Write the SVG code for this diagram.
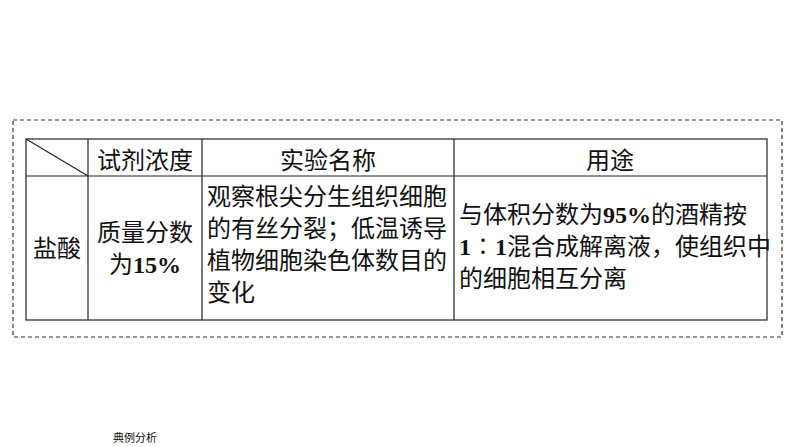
<svg xmlns="http://www.w3.org/2000/svg" width="794" height="447" viewBox="0 0 794 447">
<style>
text{font-family:"Liberation Serif","Noto Sans CJK SC",serif;font-size:24px;fill:#111}
.l{stroke:#222;stroke-width:1.2;fill:none}
</style>
<rect width="794" height="447" fill="#fff"/>
<rect x="13" y="120" width="769" height="217" fill="none" stroke="#333" stroke-width="1.2" stroke-dasharray="4,3"/>
<g id="table">
<rect class="l" x="26" y="139" width="741" height="181" stroke-width="1.5"/>
<line class="l" x1="26" y1="176" x2="767" y2="176"/>
<line class="l" x1="88" y1="139" x2="88" y2="320"/>
<line class="l" x1="202" y1="139" x2="202" y2="320"/>
<line class="l" x1="454" y1="139" x2="454" y2="320"/>
<line class="l" x1="26" y1="139" x2="88" y2="176" stroke-width="0.8"/>
</g>
<g id="header">
<text x="145" y="169" text-anchor="middle">试剂浓度</text>
<text x="328" y="169" text-anchor="middle">实验名称</text>
<text x="610" y="169" text-anchor="middle">用途</text>
</g>
<g id="row1">
<text x="57" y="257" text-anchor="middle">盐酸</text>
<text x="145" y="241" text-anchor="middle">质量分数</text>
<text x="145" y="273" text-anchor="middle">为<tspan font-weight="bold">15%</tspan></text>
<text x="207" y="205">观察根尖分生组织细胞</text>
<text x="207" y="237">的有丝分裂；低温诱导</text>
<text x="207" y="269">植物细胞染色体数目的</text>
<text x="207" y="301">变化</text>
<text x="459" y="223">与体积分数为<tspan font-weight="bold">95%</tspan>的酒精按</text>
<text x="459" y="255"><tspan font-weight="bold">1</tspan>∶<tspan font-weight="bold">1</tspan>混合成解离液，使组织中</text>
<text x="459" y="287">的细胞相互分离</text>
</g>
<text x="113" y="442" style="font-size:11px">典例分析</text>
</svg>
